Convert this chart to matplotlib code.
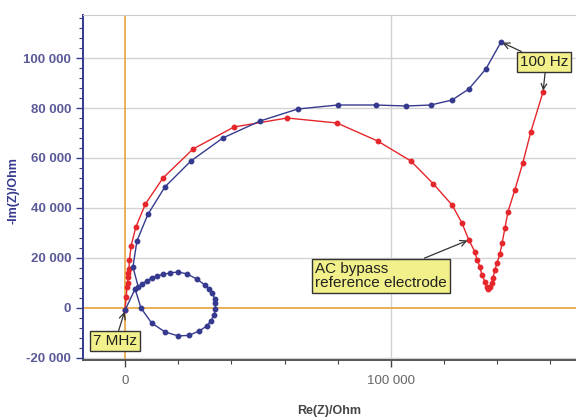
import matplotlib
matplotlib.use("Agg")
import matplotlib.pyplot as plt
from matplotlib.ticker import MultipleLocator, FuncFormatter

plt.rcParams['font.family'] = ['Liberation Sans', 'DejaVu Sans']

# Blue series (Re, -Im) from 7 MHz to 100 Hz
blue_re = [0, 3800, 6000, 10000, 15000, 20000, 24000, 28000, 30800, 32300, 33500, 34000,
           34000, 33800, 32700, 31600, 30000, 27000, 23300, 20000, 17000, 14300, 12000,
           10000, 8200, 6400, 5000, 3000, 4500, 8600, 15000, 24800, 36800, 50800, 65000,
           80000, 94400, 105700, 115000, 123000, 129300, 135700, 141400]
blue_im = [-1000, 7600, 0, -6000, -9600, -11200, -11000, -9200, -7200, -5200, -2800, -400,
           2000, 3600, 6000, 7600, 9200, 11600, 13600, 14400, 14000, 13400, 12800,
           12000, 10800, 9600, 8400, 16400, 26800, 37400, 48400, 58800, 68000, 74800, 79600,
           81200, 81200, 80800, 81200, 83200, 87600, 95600, 106400]

# Red series (AC bypass reference electrode)
red_re = [0, 500, 750, 1000, 1100, 1300, 1500, 1700, 2300, 4100, 7700, 14300, 25600, 41000,
          61000, 79700, 95000, 107500, 116000, 123000, 126700, 129300, 131600, 132400,
          133500, 134200, 135400, 136100, 136600, 137300, 137900, 138400, 139100, 139900,
          141000, 141800, 142900, 144000, 146600, 149600, 152600, 157200]
red_im = [-1000, 4500, 8400, 10000, 12400, 14000, 15600, 19200, 24800, 32400, 41600, 52000,
          63600, 72400, 76000, 74000, 66800, 58800, 49600, 41200, 34000, 27200, 22400,
          19200, 16400, 13200, 10400, 8400, 7400, 8400, 10000, 12000, 15200, 18000,
          21600, 26000, 32000, 38400, 47200, 58000, 70400, 86400]

x_ticks = [0, 100000]
y_ticks = [-20000, 0, 20000, 40000, 60000, 80000, 100000]

BLUE = '#363a8e'
RED = '#e5262b'
ORANGE = '#e8a33c'
NAVY_TXT = '#5a5a98'

fig = plt.figure(figsize=(5.76, 4.18), dpi=100)
ax = fig.add_axes([0.144, 0.139, 0.856, 0.825])

ax.set_xlim(-15800, 169600)
ax.set_ylim(-20800, 117200)

# grid
for yv in y_ticks:
    if yv != 0:
        ax.axhline(yv, color='#d2d2d2', lw=1.0, zorder=0)
ax.axvline(100000, color='#d2d2d2', lw=1.0, zorder=0)
ax.axhline(0, color=ORANGE, lw=1.2, zorder=1)
ax.axvline(0, color=ORANGE, lw=1.2, zorder=1)

ax.plot(red_re, red_im, '-o', color=RED, lw=1.0, ms=3.2, zorder=3)
ax.plot(blue_re, blue_im, '-o', color=BLUE, lw=1.0, ms=3.2, zorder=4)

fmt = FuncFormatter(lambda v, p: f"{int(v):,}".replace(',', ' '))
ax.set_xticks(x_ticks)
ax.set_yticks(y_ticks)
ax.xaxis.set_major_formatter(fmt)
ax.yaxis.set_major_formatter(fmt)
ax.xaxis.set_minor_locator(MultipleLocator(20000))
ax.yaxis.set_minor_locator(MultipleLocator(4000))

ax.tick_params(axis='y', which='major', colors=BLUE, labelcolor=NAVY_TXT, labelsize=9.5,
               length=5, width=1)
ax.tick_params(axis='y', which='minor', colors=BLUE, length=3, width=0.8)
ax.tick_params(axis='x', which='major', colors='#444444', labelcolor='#666666', labelsize=9.5,
               length=5, width=1, pad=6)
ax.tick_params(axis='x', which='minor', colors='#444444', length=3, width=0.8)
for lbl in ax.get_yticklabels():
    lbl.set_fontweight('bold')

ax.spines['left'].set_color(BLUE)
ax.spines['left'].set_linewidth(1.4)
ax.spines['bottom'].set_color('#555555')
ax.spines['bottom'].set_linewidth(1.4)
ax.spines['top'].set_color('#cccccc')
ax.spines['right'].set_visible(False)

ax.set_ylabel('-Im(Z)/Ohm', color=BLUE, fontsize=9, fontweight='bold')
ax.yaxis.set_label_coords(-0.128, 0.49)
ax.set_xlabel('Re(Z)/Ohm', color='#444444', fontsize=9, fontweight='bold', labelpad=13)

box = dict(boxstyle='square,pad=0.2', facecolor='#f1f08a', edgecolor='#333333', lw=1.0)
arrow = dict(arrowstyle='->', color='#333333', lw=0.9, shrinkA=0, shrinkB=1)

ax.annotate('7 MHz', xy=(blue_re[0], blue_im[0]), xytext=(-11900, -13300),
            fontsize=11, color='#222222', bbox=box, arrowprops=arrow, va='center', ha='left')
ax.annotate('100 Hz', xy=(blue_re[-1], blue_im[-1]), xytext=(148500, 98400),
            fontsize=11, color='#222222', bbox=box, arrowprops=arrow, va='center', ha='left')
ax.annotate('', xy=(red_re[-1], red_im[-1]), xytext=(158000, 94200),
            arrowprops=arrow)
ax.annotate('AC bypass\nreference electrode', xy=(129300, 27200), xytext=(71500, 12800),
            fontsize=11, color='#222222', bbox=box, arrowprops=arrow, va='center', ha='left',
            linespacing=1.05)

fig.savefig('out.png', dpi=100)
